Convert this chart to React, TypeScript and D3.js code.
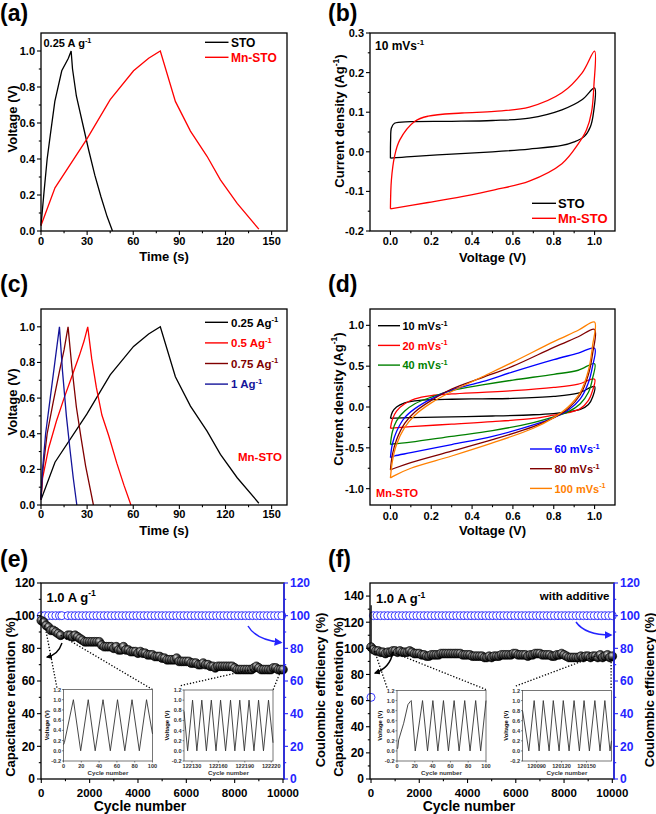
import React from 'react';
import * as d3 from 'd3';

const FONT = "'Liberation Sans', Arial, sans-serif";

// ---------- (a) GCD at 0.25 A/g ----------
const aStoTime = [0, 2, 4, 6, 9, 13.5, 17.8, 19.6, 20.5, 23, 27, 31, 35, 39, 43, 46.5];
const aStoVolt = [0.03, 0.22, 0.4, 0.53, 0.72, 0.89, 0.96, 1.0, 0.9, 0.75, 0.6, 0.45, 0.31, 0.19, 0.08, 0.0];
const aMnTime = [0, 9.1, 29.8, 45, 60.2, 70, 77.6, 87.4, 97.2, 108, 116.7, 127.6, 141.7];
const aMnVolt = [0.03, 0.24, 0.51, 0.73, 0.89, 0.96, 1.0, 0.72, 0.555, 0.415, 0.284, 0.153, 0.01];

// ---------- (b) CV at 10 mV/s ----------
const bStoV = [0, 0.001, 0.005, 0.02, 0.1, 0.3, 0.5, 0.68, 0.84, 0.94, 1.0, 0.995, 0.98, 0.95, 0.9, 0.84, 0.68, 0.5, 0.3, 0.1, 0];
const bStoI = [-0.016, 0.03, 0.06, 0.072, 0.076, 0.077, 0.079, 0.085, 0.106, 0.132, 0.161, 0.1, 0.064, 0.039, 0.025, 0.016, 0.007, 0.0, -0.006, -0.012, -0.016];
const bMnV = [0, 0.005, 0.02, 0.046, 0.12, 0.185, 0.35, 0.51, 0.68, 0.84, 0.94, 1.0, 0.997, 0.985, 0.96, 0.92, 0.84, 0.68, 0.51, 0.35, 0.185, 0];
const bMnI = [-0.144, -0.07, -0.012, 0.03, 0.077, 0.09, 0.098, 0.102, 0.113, 0.149, 0.2, 0.254, 0.17, 0.1, 0.055, 0.02, -0.03, -0.074, -0.096, -0.113, -0.128, -0.144];

// ---------- (c) GCD of Mn-STO at several currents ----------
const cLabels = ['0.25 Ag', '0.5 Ag', '0.75 Ag', '1 Ag'];
const cColors = ['#000000', '#ff0000', '#800000', '#14149a'];
const c025Time = [0, 9.1, 29.8, 45, 60.2, 70, 77.6, 87.4, 97.2, 108, 116.7, 127.6, 141.7];
const c025Volt = [0.03, 0.24, 0.51, 0.73, 0.89, 0.96, 1.0, 0.72, 0.555, 0.415, 0.284, 0.153, 0.01];
const c05Time = [0, 1, 5, 10, 15, 20, 25, 28, 30.4, 33, 36, 39.6, 44, 49.3, 54, 58.5];
const c05Volt = [0.03, 0.15, 0.32, 0.47, 0.6, 0.72, 0.84, 0.92, 1.0, 0.82, 0.66, 0.505, 0.39, 0.235, 0.11, 0.0];
const c075Time = [0, 1, 4, 8, 12, 15, 17.6, 20, 23, 26, 29, 32, 34.1];
const c075Volt = [0.03, 0.18, 0.4, 0.58, 0.75, 0.87, 1.0, 0.78, 0.55, 0.38, 0.22, 0.09, 0.0];
const c1Time = [0, 1, 3, 6, 9, 12, 14, 16.5, 19, 21, 23.3];
const c1Volt = [0.03, 0.2, 0.4, 0.6, 0.8, 1.0, 0.75, 0.5, 0.3, 0.15, 0.0];

// ---------- (d) CV of Mn-STO at several scan rates ----------
const dLabels = ['10 mVs', '20 mVs', '40 mVs', '60 mVs', '80 mVs', '100 mVs'];
const dColors = ['#000000', '#ff0000', '#008000', '#0000ff', '#800000', '#ff8000'];
const dVolt = [0, 0.01, 0.03, 0.07, 0.12, 0.2, 0.3, 0.45, 0.6, 0.8, 0.92, 1.0, 0.99, 0.97, 0.93, 0.87, 0.8, 0.7, 0.5, 0.3, 0.1, 0.02, 0];
const dI10 = [-0.14, -0.06, 0.0, 0.05, 0.075, 0.09, 0.095, 0.1, 0.105, 0.13, 0.17, 0.25, 0.12, 0.03, -0.03, -0.06, -0.08, -0.095, -0.11, -0.12, -0.13, -0.137, -0.14];
const dI20 = [-0.26, -0.15, -0.05, 0.04, 0.1, 0.14, 0.16, 0.18, 0.2, 0.24, 0.28, 0.34, 0.2, 0.08, -0.02, -0.07, -0.1, -0.14, -0.18, -0.21, -0.24, -0.255, -0.26];
const dI40 = [-0.46, -0.3, -0.17, -0.05, 0.04, 0.12, 0.2, 0.27, 0.33, 0.4, 0.45, 0.53, 0.35, 0.18, 0.04, -0.06, -0.12, -0.19, -0.29, -0.36, -0.43, -0.45, -0.46];
const dI60 = [-0.62, -0.45, -0.3, -0.13, -0.02, 0.1, 0.21, 0.31, 0.43, 0.58, 0.66, 0.72, 0.5, 0.3, 0.1, -0.04, -0.13, -0.22, -0.36, -0.46, -0.56, -0.6, -0.62];
const dI80 = [-0.77, -0.58, -0.4, -0.2, -0.06, 0.08, 0.22, 0.36, 0.5, 0.73, 0.86, 0.95, 0.65, 0.4, 0.15, -0.02, -0.13, -0.24, -0.4, -0.54, -0.68, -0.75, -0.77];
const dI100 = [-0.87, -0.66, -0.46, -0.25, -0.1, 0.05, 0.19, 0.37, 0.55, 0.8, 0.94, 1.04, 0.75, 0.45, 0.18, 0.0, -0.13, -0.26, -0.44, -0.6, -0.75, -0.84, -0.87];

// ---------- (e) cycling, no additive ----------
const eCycles = [0, 100, 200, 300, 400, 500, 600, 700, 800,
  1100, 1200, 1300, 1400, 1500, 1600, 1700, 1800, 1900, 2000,
  2100, 2200, 2300, 2400, 2500, 2600, 2700, 2800, 2900, 3000,
  3100, 3200, 3300, 3400, 3500, 3600, 3700, 3800, 3900, 4000,
  4100, 4200, 4300, 4400, 4500, 4600, 4700, 4800, 4900, 5000,
  5100, 5200, 5300, 5400, 5500, 5600, 5700, 5800, 5900, 6000,
  6100, 6200, 6300, 6400, 6500, 6600, 6700, 6800, 6900, 7000,
  7100, 7200, 7300, 7400, 7500, 7600, 7700, 7800, 7900, 8000,
  8100, 8200, 8300, 8400, 8500, 8600, 8700, 8800, 8900, 9000,
  9100, 9200, 9300, 9400, 9500, 9600, 9700, 9800, 9900, 10000];
const eRetention = [97, 96, 94, 93, 91, 91, 90, 89, 88,
  88, 88, 87, 88, 87, 86, 85, 84, 84, 84,
  84, 84, 84, 84, 82, 81, 81, 81, 81, 80,
  81, 79, 79, 81, 79, 79, 78, 78, 78, 77,
  78, 77, 77, 76, 76, 76, 75, 75, 75, 74,
  74, 73, 73, 73, 73, 74, 72, 72, 72, 72,
  72, 71, 71, 71, 70, 70, 71, 70, 70, 69,
  69, 68, 69, 69, 69, 69, 69, 69, 69, 68,
  67, 67, 67, 67, 67, 67, 67, 68, 69, 68,
  67, 67, 67, 67, 67, 68, 68, 67, 67, 67];
const eCeCycles = [0, 150, 300, 450, 600, 750, 850, 1100, 1250, 1400, 1550, 1700, 1850, 2000, 2150, 2300, 2450, 2600, 2750, 2900,
  3050, 3200, 3350, 3500, 3650, 3800, 3950, 4100, 4250, 4400, 4550, 4700, 4850, 5000, 5150, 5300, 5450, 5600, 5750, 5900,
  6050, 6200, 6350, 6500, 6650, 6800, 6950, 7100, 7250, 7400, 7550, 7700, 7850, 8000, 8150, 8300, 8450, 8600, 8750, 8900,
  9050, 9200, 9350, 9500, 9650, 9800, 9950];
const eCe = [100, 100, 100, 100, 100, 100, 100, 100, 100, 100, 100, 100, 100, 100, 100, 100, 100, 100, 100, 100,
  100, 100, 100, 100, 100, 100, 100, 100, 100, 100, 100, 100, 100, 100, 100, 100, 100, 100, 100, 100,
  100, 100, 100, 100, 100, 100, 100, 100, 100, 100, 100, 100, 100, 100, 100, 100, 100, 100, 100, 100,
  100, 100, 100, 100, 100, 100, 100];

// ---------- (f) cycling, with additive ----------
const fCycles = [0, 100, 200, 300, 400, 500, 600, 700, 800, 900, 1000,
  1100, 1200, 1300, 1400, 1500, 1600, 1700, 1800, 1900, 2000,
  2100, 2200, 2300, 2400, 2500, 2600, 2700, 2800, 2900, 3000,
  3100, 3200, 3300, 3400, 3500, 3600, 3700, 3800, 3900, 4000,
  4100, 4200, 4300, 4400, 4500, 4600, 4700, 4800, 4900, 5000,
  5100, 5200, 5300, 5400, 5500, 5600, 5700, 5800, 5900, 6000,
  6100, 6200, 6300, 6400, 6500, 6600, 6700, 6800, 6900, 7000,
  7100, 7200, 7300, 7400, 7500, 7600, 7700, 7800, 7900, 8000,
  8100, 8200, 8300, 8400, 8500, 8600, 8700, 8800, 8900, 9000,
  9100, 9200, 9300, 9400, 9500, 9600, 9700, 9800, 9900, 10000];
const fRetention = [101, 99, 98, 98, 97, 97, 96, 97, 97, 98, 98,
  97, 98, 97, 97, 97, 98, 97, 96, 96, 96,
  95, 95, 94, 94, 95, 95, 95, 95, 96, 96,
  96, 96, 96, 96, 96, 96, 96, 95, 95, 95,
  95, 94, 94, 94, 94, 94, 93, 93, 94, 93,
  94, 94, 94, 95, 95, 95, 95, 95, 96, 96,
  95, 95, 95, 95, 94, 95, 95, 96, 96, 96,
  95, 95, 95, 95, 94, 94, 95, 95, 96, 95,
  94, 93, 93, 93, 93, 93, 94, 93, 94, 94,
  93, 94, 94, 93, 95, 93, 94, 95, 93, 94];
const fStartCycles = [5, 5];
const fStartRetention = [133, 101];
const fCeCycles = [0, 100, 250, 400, 550, 700, 850, 1000, 1150, 1300, 1450, 1600, 1750, 1900, 2050, 2200, 2350, 2500, 2650, 2800, 2950,
  3100, 3250, 3400, 3550, 3700, 3850, 4000, 4150, 4300, 4450, 4600, 4750, 4900, 5050, 5200, 5350, 5500, 5650, 5800, 5950,
  6100, 6250, 6400, 6550, 6700, 6850, 7000, 7150, 7300, 7450, 7600, 7750, 7900, 8050, 8200, 8350, 8500, 8650, 8800, 8950,
  9100, 9250, 9400, 9550, 9700, 9850, 10000];
const fCe = [50, 100, 100, 100, 100, 100, 100, 100, 100, 100, 100, 100, 100, 100, 100, 100, 100, 100, 100, 100, 100,
  100, 100, 100, 100, 100, 100, 100, 100, 100, 100, 100, 100, 100, 100, 100, 100, 100, 100, 100, 100,
  100, 100, 100, 100, 100, 100, 100, 100, 100, 100, 100, 100, 100, 100, 100, 100, 100, 100, 100, 100,
  100, 100, 100, 100, 100, 100, 100];

// ---------- insets (voltage profiles) ----------
const e1X = [0, 1, 11.1, 19.3, 27.8, 35.6, 44.4, 52.6, 60.7, 68.9, 77, 85.2, 93.3, 100];
const e1V = [0.12, 0.16, 1, 0, 1, 0, 1, 0, 1, 0, 1, 0, 1, 0.33];
const e2X = [122121, 122125.1, 122130.7, 122135.6, 122141.2, 122146.4, 122152, 122157.3, 122162.5, 122168.2, 122173.8, 122178.7, 122184.3, 122189.5, 122194.8, 122200.4, 122205.6, 122211.2, 122216.9, 122222];
const e2V = [0.78, 0, 1, 0, 1, 0, 1, 0, 1, 0, 1, 0, 1, 0, 1, 0, 1, 0, 1, 0.16];
const f1X = [0, 0.8, 1.9, 7.5, 12.3, 14.9, 16, 20.5, 28.7, 34.3, 40.3, 45.9, 52.2, 57.8, 64.2, 69.8, 76.1, 82.1, 88.4, 94, 100];
const f1V = [0.05, 0.05, 0.22, 0.55, 0.92, 0.98, 1.0, 0, 1, 0, 1, 0, 1, 0, 1, 0, 1, 0, 1, 0, 1];
const f2X = [120073, 120080.6, 120087, 120093, 120098, 120105, 120110, 120117, 120122, 120129, 120135, 120141.4, 120147, 120153.4, 120160, 120166.2, 120172, 120178.2, 120180];
const f2V = [0.8, 0, 1, 0, 1, 0, 1, 0, 1, 0, 1, 0, 1, 0, 1, 0, 1, 0, 0.2];

// ---------- ticks ----------
const gcdXMajor = [0, 30, 60, 90, 120, 150];
const gcdXMinor = [15, 45, 75, 105, 135];
const gcdYMajor = [0, 0.2, 0.4, 0.6, 0.8, 1.0];
const gcdYMinor = [0.1, 0.3, 0.5, 0.7, 0.9];
const cvXMajor = [0, 0.2, 0.4, 0.6, 0.8, 1.0];
const cvXMinor = [0.1, 0.3, 0.5, 0.7, 0.9];
const bYMajor = [-0.2, -0.1, 0, 0.1, 0.2, 0.3];
const bYMinor = [-0.15, -0.05, 0.05, 0.15, 0.25];
const dYMajor = [-1, -0.5, 0, 0.5, 1];
const dYMinor = [-0.75, -0.25, 0.25, 0.75];
const cycXMajor = [0, 2000, 4000, 6000, 8000, 10000];
const cycXMinor = [1000, 3000, 5000, 7000, 9000];
const pctMajor = [0, 20, 40, 60, 80, 100, 120];
const pctMinor = [10, 30, 50, 70, 90, 110];
const fLeftMajor = [0, 20, 40, 60, 80, 100, 120, 140];
const fLeftMinor = [10, 30, 50, 70, 90, 110, 130];
const insetYMajor = [-0.2, 0, 0.2, 0.4, 0.6, 0.8, 1.0, 1.2];
const inset1XMajor = [0, 20, 40, 60, 80, 100];
const e2XMajor = [122130, 122160, 122190, 122220];
const f2XMajor = [120090, 120120, 120150];

const BLUE = '#2424ff';

type Box = { l: number; r: number; t: number; b: number };
const PA: Box = { l: 41, r: 287, t: 33, b: 231 };
const PB: Box = { l: 370, r: 615, t: 33, b: 231 };
const PC: Box = { l: 41, r: 287, t: 309, b: 505 };
const PD: Box = { l: 370, r: 615, t: 309, b: 505 };
const PE: Box = { l: 41, r: 284, t: 583, b: 779 };
const PF: Box = { l: 370, r: 614, t: 583, b: 779 };
const IE1: Box = { l: 63.5, r: 152.5, t: 689.5, b: 761 };
const IE2: Box = { l: 184, r: 273, t: 690, b: 761 };
const IF1: Box = { l: 397, r: 486, t: 690.5, b: 761 };
const IF2: Box = { l: 522.5, r: 611.5, t: 690.5, b: 761 };

const zip = (xs: number[], ys: number[]) => xs.map((x, i) => [x, ys[i]] as [number, number]);
const f1 = (v: number) => v.toFixed(1);
const f0 = (v: number) => String(v);

function Sup({ base, sup, fs, after }: { base: string; sup: string; fs: number; after?: string }) {
  return (
    <>
      <tspan>{base}</tspan>
      <tspan dy={-fs * 0.4} fontSize={fs * 0.66}>{sup}</tspan>
      {after ? <tspan dy={fs * 0.4}>{after}</tspan> : null}
    </>
  );
}

function XTicks({ sc, y, major, minor, fs, base, fmt, color = '#000', majLen = 4, minLen = 2.2, sw = 1.1 }: any) {
  return (
    <g>
      {minor.map((v: number, i: number) => (
        <line key={'m' + i} x1={sc(v)} x2={sc(v)} y1={y} y2={y + minLen} stroke={color} strokeWidth={sw} />
      ))}
      {major.map((v: number, i: number) => (
        <g key={'M' + i}>
          <line x1={sc(v)} x2={sc(v)} y1={y} y2={y + majLen} stroke={color} strokeWidth={sw} />
          <text x={sc(v)} y={base} textAnchor="middle" fontSize={fs} fontWeight="bold" fill={color} fontFamily={FONT}>
            {fmt(v)}
          </text>
        </g>
      ))}
    </g>
  );
}

function YTicks({ sc, x, major, minor, fs, fmt, side = 'left', color = '#000', majLen = 4, minLen = 2.2, gap = 2, sw = 1.1 }: any) {
  const dir = side === 'left' ? -1 : 1;
  return (
    <g>
      {minor.map((v: number, i: number) => (
        <line key={'m' + i} x1={x} x2={x + dir * minLen} y1={sc(v)} y2={sc(v)} stroke={color} strokeWidth={sw} />
      ))}
      {major.map((v: number, i: number) => (
        <g key={'M' + i}>
          <line x1={x} x2={x + dir * majLen} y1={sc(v)} y2={sc(v)} stroke={color} strokeWidth={sw} />
          <text x={x + dir * (majLen + gap)} y={sc(v)} dy="0.36em" textAnchor={side === 'left' ? 'end' : 'start'}
            fontSize={fs} fontWeight="bold" fill={color} fontFamily={FONT}>
            {fmt(v)}
          </text>
        </g>
      ))}
    </g>
  );
}

function Frame({ p, sw = 1.3, color = '#000' }: { p: Box; sw?: number; color?: string }) {
  return <rect x={p.l} y={p.t} width={p.r - p.l} height={p.b - p.t} fill="none" stroke={color} strokeWidth={sw} />;
}

function VTitle({ x, y, fs, children }: any) {
  return (
    <text transform={`translate(${x},${y}) rotate(-90)`} textAnchor="middle" fontSize={fs} fontWeight="bold" fontFamily={FONT}>
      {children}
    </text>
  );
}

function Label({ x, y, fs = 11, color = '#000', anchor = 'start', children }: any) {
  return (
    <text x={x} y={y} fontSize={fs} fontWeight="bold" fill={color} fontFamily={FONT} textAnchor={anchor}>
      {children}
    </text>
  );
}

function Inset({ p, xDom, xMajor, xs, vs }: { p: Box; xDom: [number, number]; xMajor: number[]; xs: number[]; vs: number[] }) {
  const x = d3.scaleLinear().domain(xDom).range([p.l, p.r]);
  const y = d3.scaleLinear().domain([-0.2, 1.2]).range([p.b, p.t]);
  const ln = d3.line<[number, number]>().x((d) => x(d[0])).y((d) => y(d[1]));
  const fs = 5.6;
  return (
    <g>
      <rect x={p.l} y={p.t} width={p.r - p.l} height={p.b - p.t} fill="#fff" stroke="#555" strokeWidth={0.8} />
      <path d={ln(zip(xs, vs)) || ''} fill="none" stroke="#333" strokeWidth={0.9} />
      <YTicks sc={y} x={p.l} major={insetYMajor} minor={[]} fs={fs} fmt={f1} majLen={1.5} gap={1} sw={0.6} color="#333" />
      <XTicks sc={x} y={p.b} major={xMajor} minor={[]} fs={fs} base={p.b + 7} fmt={f0} majLen={1.5} sw={0.6} color="#333" />
      <VTitle x={p.l - 15} y={(p.t + p.b) / 2} fs={5.8}>Voltage (V)</VTitle>
      <Label x={(p.l + p.r) / 2} y={p.b + 13.5} fs={6.2} anchor="middle" color="#333">Cycle number</Label>
    </g>
  );
}

export default function App() {
  // scales
  const xa = d3.scaleLinear().domain([0, 160]).range([PA.l, PA.r]);
  const ya = d3.scaleLinear().domain([0, 1.1]).range([PA.b, PA.t]);
  const xb = d3.scaleLinear().domain([-0.1, 1.1]).range([PB.l, PB.r]);
  const yb = d3.scaleLinear().domain([-0.2, 0.3]).range([PB.b, PB.t]);
  const xc = d3.scaleLinear().domain([0, 160]).range([PC.l, PC.r]);
  const yc = d3.scaleLinear().domain([0, 1.1]).range([PC.b, PC.t]);
  const xd = d3.scaleLinear().domain([-0.1, 1.1]).range([PD.l, PD.r]);
  const yd = d3.scaleLinear().domain([-1.2, 1.2]).range([PD.b, PD.t]);
  const xe = d3.scaleLinear().domain([-12, 10041]).range([PE.l, PE.r]);
  const yeL = d3.scaleLinear().domain([0, 120]).range([PE.b, PE.t]);
  const yeR = d3.scaleLinear().domain([0, 120]).range([PE.b, PE.t]);
  const xf = d3.scaleLinear().domain([-42, 10070]).range([PF.l, PF.r]);
  const yfL = d3.scaleLinear().domain([0, 150]).range([PF.b, PF.t]);
  const yfR = d3.scaleLinear().domain([0, 120]).range([PF.b, PF.t]);

  const lin = (sx: any, sy: any) => d3.line<[number, number]>().x((d) => sx(d[0])).y((d) => sy(d[1]));
  const cv = (sx: any, sy: any) => d3.line<[number, number]>().x((d) => sx(d[0])).y((d) => sy(d[1])).curve(d3.curveCatmullRom.alpha(0.5));

  const la = lin(xa, ya), lc = lin(xc, yc);
  const cb = cv(xb, yb), cd = cv(xd, yd);
  const dCurves = [dI10, dI20, dI40, dI60, dI80, dI100];
  const cCurves = [[c025Time, c025Volt], [c05Time, c05Volt], [c075Time, c075Volt], [c1Time, c1Volt]];

  const TF = 11; // tick font
  const AT = 13; // axis title font

  return (
    <svg width={656} height={814} style={{ position: 'absolute', left: 0, top: 0, background: '#fff' }} fontFamily={FONT}>
      <defs>
        <radialGradient id="ball" cx="0.38" cy="0.35" r="0.62">
          <stop offset="0%" stopColor="#e0e0e0" />
          <stop offset="45%" stopColor="#555" />
          <stop offset="100%" stopColor="#000" />
        </radialGradient>
        <marker id="ahK" viewBox="0 0 10 10" refX="8" refY="5" markerWidth="6" markerHeight="6" orient="auto" markerUnits="userSpaceOnUse">
          <path d="M0,0 L10,5 L0,10 z" fill="#000" />
        </marker>
        <marker id="ahB" viewBox="0 0 10 10" refX="8" refY="5" markerWidth="8" markerHeight="8" orient="auto" markerUnits="userSpaceOnUse">
          <path d="M0,0 L10,5 L0,10 z" fill={BLUE} />
        </marker>
      </defs>
      <rect x={0} y={0} width={656} height={814} fill="#fff" />

      {/* panel labels */}
      <Label x={0} y={21} fs={23}>(a)</Label>
      <Label x={328} y={21} fs={23}>(b)</Label>
      <Label x={0} y={292} fs={23}>(c)</Label>
      <Label x={328} y={292} fs={23}>(d)</Label>
      <Label x={0} y={567} fs={23}>(e)</Label>
      <Label x={328} y={567} fs={23}>(f)</Label>

      {/* ---------------- (a) ---------------- */}
      <g>
        <path d={la(zip(aStoTime, aStoVolt)) || ''} fill="none" stroke="#000" strokeWidth={1.3} />
        <path d={la(zip(aMnTime, aMnVolt)) || ''} fill="none" stroke="#ff0000" strokeWidth={1.3} />
        <Frame p={PA} />
        <XTicks sc={xa} y={PA.b} major={gcdXMajor} minor={gcdXMinor} fs={TF} base={PA.b + 14} fmt={f0} />
        <YTicks sc={ya} x={PA.l} major={gcdYMajor} minor={gcdYMinor} fs={TF} fmt={f1} />
        <Label x={(PA.l + PA.r) / 2} y={261} fs={AT} anchor="middle">Time (s)</Label>
        <VTitle x={16.5} y={119} fs={AT}>Voltage (V)</VTitle>
        <Label x={43.5} y={47} fs={11}><Sup base="0.25 A g" sup="-1" fs={11} /></Label>
        <line x1={205} x2={228.5} y1={42.3} y2={42.3} stroke="#000" strokeWidth={1.4} />
        <Label x={231} y={46.6} fs={12}>STO</Label>
        <line x1={205} x2={228.5} y1={57.3} y2={57.3} stroke="#ff0000" strokeWidth={1.4} />
        <Label x={231} y={61.6} fs={12} color="#ff0000">Mn-STO</Label>
      </g>

      {/* ---------------- (b) ---------------- */}
      <g>
        <path d={cb(zip(bStoV, bStoI)) || ''} fill="none" stroke="#000" strokeWidth={1.3} />
        <path d={cb(zip(bMnV, bMnI)) || ''} fill="none" stroke="#ff0000" strokeWidth={1.3} />
        <Frame p={PB} />
        <XTicks sc={xb} y={PB.b} major={cvXMajor} minor={cvXMinor} fs={TF} base={PB.b + 14} fmt={f1} />
        <YTicks sc={yb} x={PB.l} major={bYMajor} minor={bYMinor} fs={TF} fmt={f1} />
        <Label x={(PB.l + PB.r) / 2} y={262} fs={AT} anchor="middle">Voltage (V)</Label>
        <VTitle x={344} y={121} fs={AT}><Sup base="Current density (Ag" sup="-1" fs={AT} after=")" /></VTitle>
        <Label x={375} y={50} fs={12}><Sup base="10 mVs" sup="-1" fs={12} /></Label>
        <line x1={532} x2={556} y1={203.3} y2={203.3} stroke="#000" strokeWidth={1.4} />
        <Label x={558} y={208} fs={13}>STO</Label>
        <line x1={532} x2={556} y1={218.3} y2={218.3} stroke="#ff0000" strokeWidth={1.4} />
        <Label x={558} y={223} fs={13} color="#ff0000">Mn-STO</Label>
      </g>

      {/* ---------------- (c) ---------------- */}
      <g>
        {cCurves.map((c, i) => (
          <path key={i} d={lc(zip(c[0], c[1])) || ''} fill="none" stroke={cColors[i]} strokeWidth={1.3} />
        ))}
        <Frame p={PC} />
        <XTicks sc={xc} y={PC.b} major={gcdXMajor} minor={gcdXMinor} fs={TF} base={PC.b + 13} fmt={f0} />
        <YTicks sc={yc} x={PC.l} major={gcdYMajor} minor={gcdYMinor} fs={TF} fmt={f1} />
        <Label x={(PC.l + PC.r) / 2} y={535} fs={AT} anchor="middle">Time (s)</Label>
        <VTitle x={16.5} y={402} fs={AT}>Voltage (V)</VTitle>
        {cLabels.map((t, i) => (
          <g key={i}>
            <line x1={205} x2={228} y1={322.3 + i * 20.6} y2={322.3 + i * 20.6} stroke={cColors[i]} strokeWidth={1.4} />
            <Label x={231} y={326.6 + i * 20.6} fs={11.5} color={cColors[i]}><Sup base={t} sup="-1" fs={11.5} /></Label>
          </g>
        ))}
        <Label x={238} y={461} fs={11.5} color="#ff0000">Mn-STO</Label>
      </g>

      {/* ---------------- (d) ---------------- */}
      <g>
        {dCurves.map((c, i) => (
          <path key={i} d={cd(zip(dVolt, c)) || ''} fill="none" stroke={dColors[i]} strokeWidth={1.3} />
        ))}
        <Frame p={PD} />
        <XTicks sc={xd} y={PD.b} major={cvXMajor} minor={cvXMinor} fs={TF} base={PD.b + 15} fmt={f1} />
        <YTicks sc={yd} x={PD.l} major={dYMajor} minor={dYMinor} fs={TF} fmt={f1} />
        <Label x={(PD.l + PD.r) / 2} y={535} fs={AT} anchor="middle">Voltage (V)</Label>
        <VTitle x={342.5} y={399} fs={AT}><Sup base="Current density (Ag" sup="-1" fs={AT} after=")" /></VTitle>
        {dLabels.map((t, i) => {
          const top = i < 3;
          const lx = top ? 378 : 530;
          const ly = top ? 325.7 + i * 19.7 : 449 + (i - 3) * 19.7;
          return (
            <g key={i}>
              <line x1={lx} x2={lx + 22} y1={ly} y2={ly} stroke={dColors[i]} strokeWidth={1.4} />
              <Label x={lx + 24.5} y={ly + 4.2} fs={11} color={dColors[i]}><Sup base={t} sup="-1" fs={11} /></Label>
            </g>
          );
        })}
        <Label x={376} y={497} fs={11} color="#ff0000">Mn-STO</Label>
      </g>

      {/* ---------------- (e) ---------------- */}
      <g>
        {eCeCycles.map((c, i) => (
          <circle key={'ce' + i} cx={xe(c)} cy={yeR(eCe[i])} r={4} fill="#fff" stroke={BLUE} strokeWidth={0.9} />
        ))}
        {eCycles.map((c, i) => (
          <circle key={'r' + i} cx={xe(c)} cy={yeL(eRetention[i])} r={4.4} fill="url(#ball)" stroke="#000" strokeWidth={0.6} />
        ))}
        <Frame p={PE} />
        <line x1={PE.r} x2={PE.r} y1={PE.t} y2={PE.b} stroke={BLUE} strokeWidth={1.5} />
        <XTicks sc={xe} y={PE.b} major={cycXMajor} minor={cycXMinor} fs={11.5} base={PE.b + 18} fmt={f0} />
        <YTicks sc={yeL} x={PE.l} major={pctMajor} minor={pctMinor} fs={12} fmt={f0} />
        <YTicks sc={yeR} x={PE.r} major={pctMajor} minor={pctMinor} fs={12} fmt={f0} side="right" color={BLUE} />
        <Label x={140} y={811} fs={14} anchor="middle">Cycle number</Label>
        <VTitle x={14.5} y={697} fs={13}>Capacitance retention (%)</VTitle>
        <VTitle x={325} y={690} fs={13}>Coulombic efficiency (%)</VTitle>
        <Label x={46.5} y={601.5} fs={13}><Sup base="1.0 A g" sup="-1" fs={13} /></Label>
        <path d={`M${62},${643} Q${58},${655} ${47},${657}`} fill="none" stroke="#000" strokeWidth={1.4} markerEnd="url(#ahK)" />
        <path d={`M${248},${626} Q${256},${640} ${281},${642.5}`} fill="none" stroke={BLUE} strokeWidth={1.5} markerEnd="url(#ahB)" />
        <line x1={xe(150)} y1={yeL(94)} x2={57.3} y2={IE1.t} stroke="#000" strokeWidth={1.3} strokeDasharray="1.3,1.8" />
        <line x1={xe(800)} y1={yeL(88)} x2={IE1.r} y2={IE1.t} stroke="#000" strokeWidth={1.3} strokeDasharray="1.3,1.8" />
        <line x1={xe(8700)} y1={yeL(67)} x2={IE2.l - 5} y2={IE2.t - 4} stroke="#000" strokeWidth={1.3} strokeDasharray="1.3,1.8" />
        <line x1={xe(9900)} y1={yeL(66)} x2={IE2.r} y2={IE2.t} stroke="#000" strokeWidth={1.3} strokeDasharray="1.3,1.8" />
        <Inset p={IE1} xDom={[0, 100]} xMajor={inset1XMajor} xs={e1X} vs={e1V} />
        <Inset p={IE2} xDom={[122121, 122222]} xMajor={e2XMajor} xs={e2X} vs={e2V} />
      </g>

      {/* ---------------- (f) ---------------- */}
      <g>
        {fCeCycles.map((c, i) => (
          <circle key={'ce' + i} cx={xf(c)} cy={yfR(fCe[i])} r={4} fill="#fff" stroke={BLUE} strokeWidth={0.9} />
        ))}
        <path d={lin(xf, yfL)(zip(fStartCycles, fStartRetention)) || ''} stroke="#000" strokeWidth={1.2} fill="none" />
        {fCycles.map((c, i) => (
          <circle key={'r' + i} cx={xf(c)} cy={yfL(fRetention[i])} r={4.4} fill="url(#ball)" stroke="#000" strokeWidth={0.6} />
        ))}
        <Frame p={PF} />
        <line x1={PF.r} x2={PF.r} y1={PF.t} y2={PF.b} stroke={BLUE} strokeWidth={1.5} />
        <XTicks sc={xf} y={PF.b} major={cycXMajor} minor={cycXMinor} fs={11.5} base={PF.b + 18} fmt={f0} />
        <YTicks sc={yfL} x={PF.l} major={fLeftMajor} minor={fLeftMinor} fs={12} fmt={f0} />
        <YTicks sc={yfR} x={PF.r} major={pctMajor} minor={pctMinor} fs={12} fmt={f0} side="right" color={BLUE} />
        <Label x={469} y={811} fs={14} anchor="middle">Cycle number</Label>
        <VTitle x={342.5} y={697} fs={13}>Capacitance retention (%)</VTitle>
        <VTitle x={654} y={690} fs={13}>Coulombic efficiency (%)</VTitle>
        <Label x={376} y={603} fs={13}><Sup base="1.0 A g" sup="-1" fs={13} /></Label>
        <Label x={609.5} y={600} fs={11.5} anchor="end">with additive</Label>
        <path d={`M${393},${652} Q${390},${668} ${375},${673}`} fill="none" stroke="#000" strokeWidth={1.4} markerEnd="url(#ahK)" />
        <path d={`M${576},${622} Q${585},${635} ${611},${635}`} fill="none" stroke={BLUE} strokeWidth={1.5} markerEnd="url(#ahB)" />
        <line x1={xf(150)} y1={yfL(98)} x2={387.3} y2={IF1.t - 2} stroke="#000" strokeWidth={1.3} strokeDasharray="1.3,1.8" />
        <line x1={xf(900)} y1={yfL(97)} x2={IF1.r} y2={IF1.t - 1} stroke="#000" strokeWidth={1.3} strokeDasharray="1.3,1.8" />
        <line x1={xf(9300)} y1={yfL(94)} x2={IF2.l - 8} y2={IF2.t - 4} stroke="#000" strokeWidth={1.3} strokeDasharray="1.3,1.8" />
        <line x1={xf(9950)} y1={yfL(92)} x2={xf(9950)} y2={IF2.t - 1} stroke="#000" strokeWidth={1.3} strokeDasharray="1.3,1.8" />
        <Inset p={IF1} xDom={[0, 100]} xMajor={inset1XMajor} xs={f1X} vs={f1V} />
        <Inset p={IF2} xDom={[120073, 120180]} xMajor={f2XMajor} xs={f2X} vs={f2V} />
      </g>
    </svg>
  );
}
